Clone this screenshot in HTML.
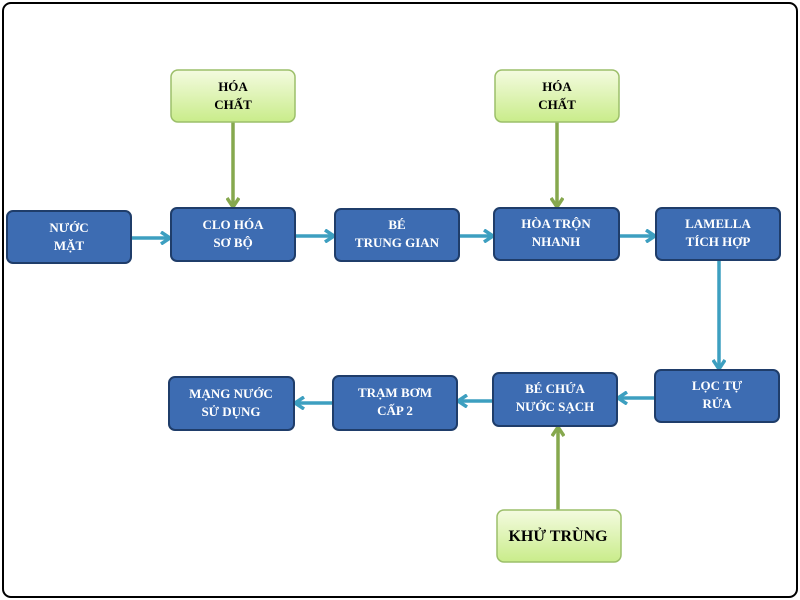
<!DOCTYPE html>
<html><head><style>body{margin:0;background:#fff}svg{display:block}text{font-family:"Liberation Serif",serif;font-weight:bold;font-size:13px;text-anchor:middle}</style></head><body>
<svg width="800" height="600" xmlns="http://www.w3.org/2000/svg">
<defs>
<linearGradient id="g" x1="0" y1="0" x2="0" y2="1"><stop offset="0" stop-color="#f4fbe0"/><stop offset="1" stop-color="#c9ec8a"/></linearGradient>
<marker id="ab" markerWidth="14" markerHeight="14" refX="11" refY="7" orient="auto" markerUnits="userSpaceOnUse"><path d="M2,1 L11,7 L2,13" fill="none" stroke="#3d9fc0" stroke-width="3.5"/></marker>
<marker id="ag" markerWidth="14" markerHeight="14" refX="11" refY="7" orient="auto" markerUnits="userSpaceOnUse"><path d="M2,1 L11,7 L2,13" fill="none" stroke="#86a84e" stroke-width="3.5"/></marker>
</defs>
<rect x="3" y="3" width="794" height="594" rx="8" fill="#fff" stroke="#000" stroke-width="2"/>
<g stroke="#3d9fc0" stroke-width="3.5" marker-end="url(#ab)">
<line x1="131" y1="238" x2="170" y2="238"/>
<line x1="295" y1="236" x2="334" y2="236"/>
<line x1="459" y1="236" x2="493" y2="236"/>
<line x1="619" y1="236" x2="655" y2="236"/>
<line x1="719" y1="260" x2="719" y2="369"/>
<line x1="655" y1="398" x2="618" y2="398"/>
<line x1="493" y1="401" x2="458" y2="401"/>
<line x1="333" y1="403" x2="295" y2="403"/>
</g>
<g stroke="#86a84e" stroke-width="3.5" marker-end="url(#ag)">
<line x1="233" y1="122" x2="233" y2="207"/>
<line x1="557" y1="122" x2="557" y2="207"/>
<line x1="558" y1="510" x2="558" y2="427"/>
</g>
<g fill="#3d6cb2" stroke="#1f3d6a" stroke-width="2">
<rect x="7" y="211" width="124" height="52" rx="6"/>
<rect x="171" y="208" width="124" height="53" rx="6"/>
<rect x="335" y="209" width="124" height="52" rx="6"/>
<rect x="494" y="208" width="125" height="52" rx="6"/>
<rect x="656" y="208" width="124" height="52" rx="6"/>
<rect x="655" y="370" width="124" height="52" rx="6"/>
<rect x="493" y="373" width="124" height="53" rx="6"/>
<rect x="333" y="376" width="124" height="54" rx="6"/>
<rect x="169" y="377" width="125" height="53" rx="6"/>
</g>
<g fill="url(#g)" stroke="#9cbf6a" stroke-width="1.5">
<rect x="171" y="70" width="124" height="52" rx="7"/>
<rect x="495" y="70" width="124" height="52" rx="7"/>
<rect x="497" y="510" width="124" height="52" rx="7"/>
</g>
<g fill="#fff">
<text x="69" y="232">NƯỚC</text><text x="69" y="250">MẶT</text>
<text x="233" y="229">CLO HÓA</text><text x="233" y="247">SƠ BỘ</text>
<text x="397" y="229">BÉ</text><text x="397" y="247">TRUNG GIAN</text>
<text x="556" y="228">HÒA TRỘN</text><text x="556" y="246">NHANH</text>
<text x="718" y="228">LAMELLA</text><text x="718" y="246">TÍCH HỢP</text>
<text x="717" y="390">LỌC TỰ</text><text x="717" y="408">RỬA</text>
<text x="555" y="393">BÉ CHỨA</text><text x="555" y="411">NƯỚC SẠCH</text>
<text x="395" y="397">TRẠM BƠM</text><text x="395" y="415">CẤP 2</text>
<text x="231" y="398">MẠNG NƯỚC</text><text x="231" y="416">SỬ DỤNG</text>
</g>
<g fill="#000">
<text x="233" y="91">HÓA</text><text x="233" y="109">CHẤT</text>
<text x="557" y="91">HÓA</text><text x="557" y="109">CHẤT</text>
<text x="558" y="541" style="font-size:16px">KHỬ TRÙNG</text>
</g>
</svg>
</body></html>
